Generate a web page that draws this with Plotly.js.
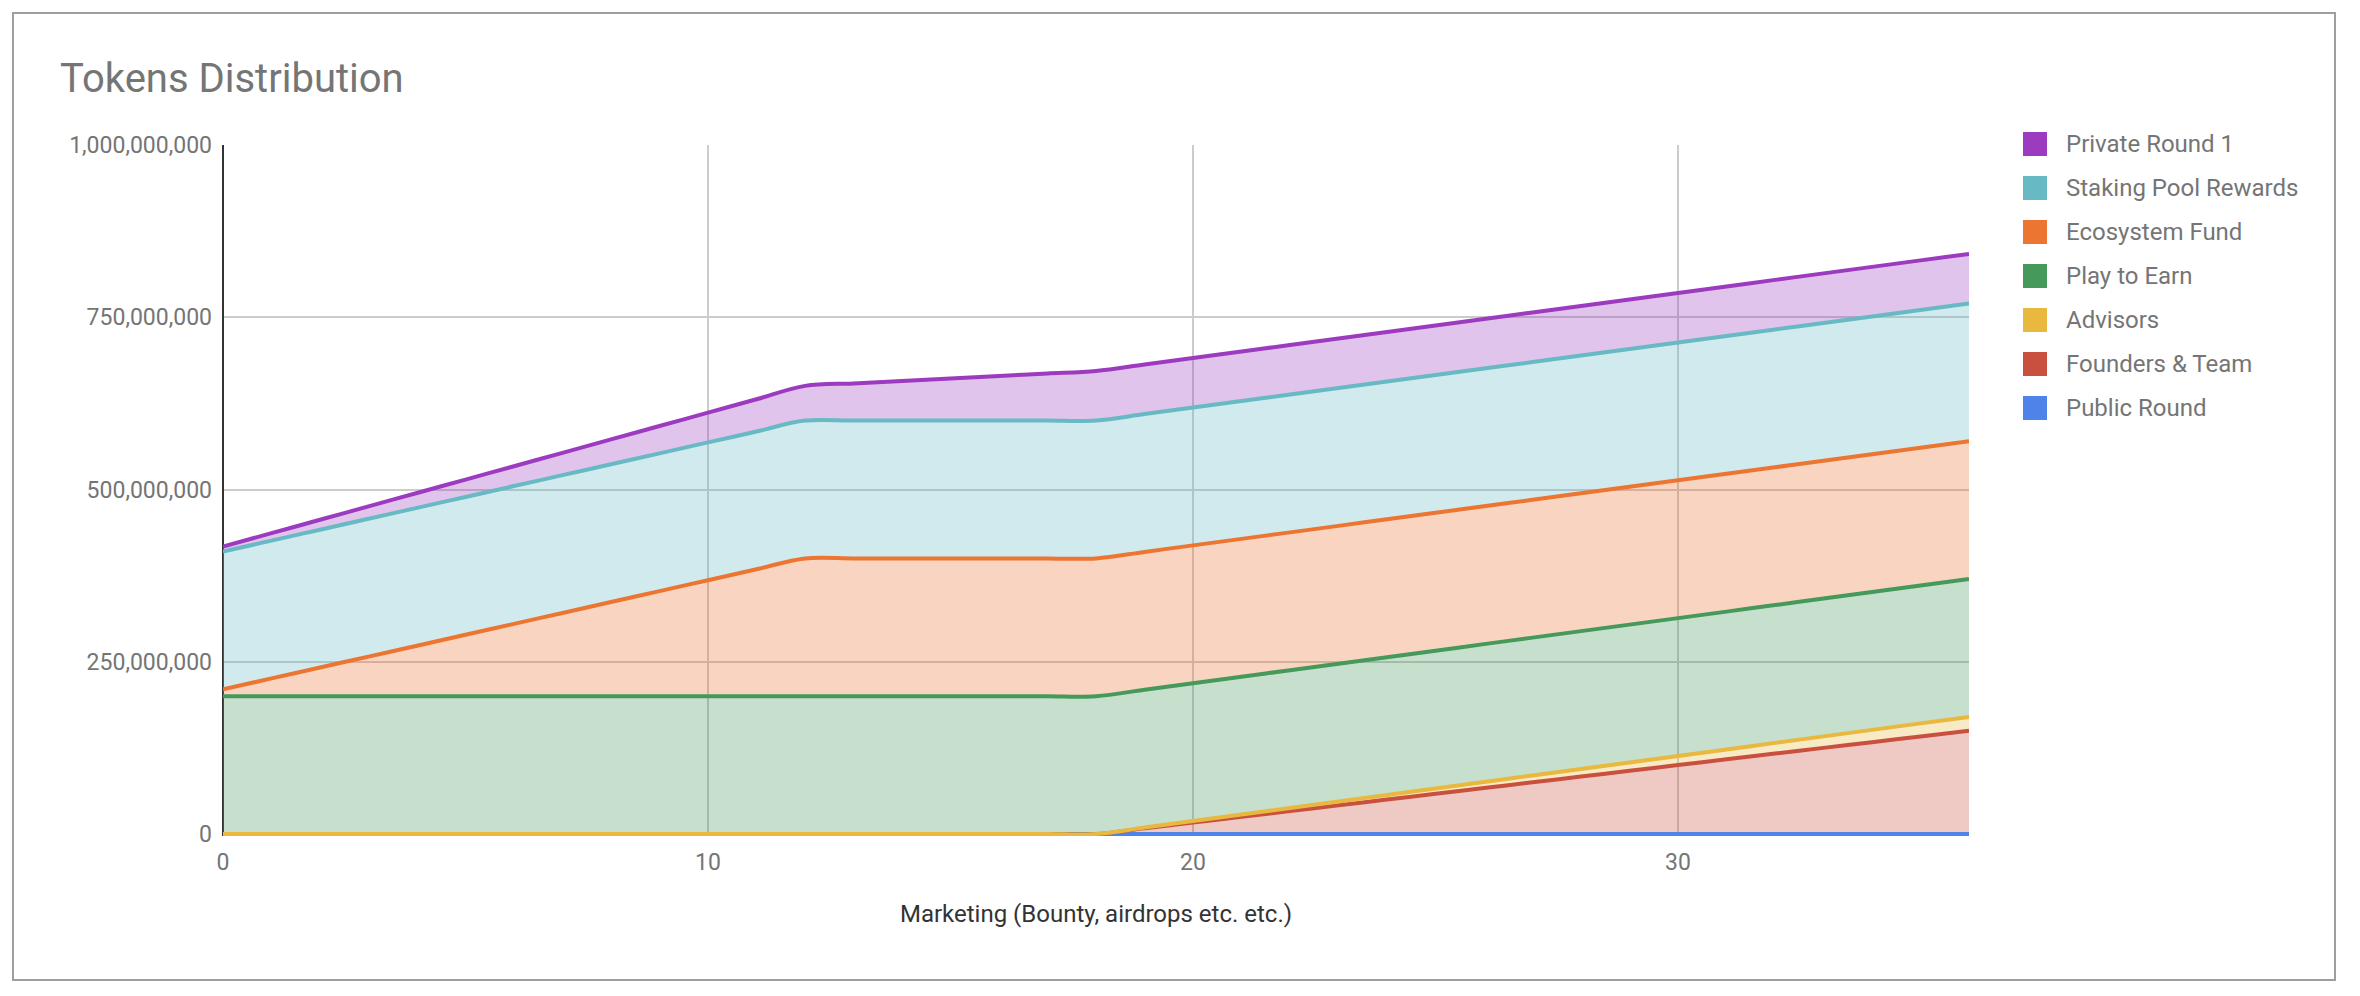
<!DOCTYPE html>
<html>
<head>
<meta charset="utf-8">
<script src="https://cdn.plot.ly/plotly-3.0.1.min.js"></script>
<style>
  html, body { margin: 0; padding: 0; background: #fff; }
  #wrap { position: relative; width: 2360px; height: 996px; }
  #chart { width: 2360px; height: 996px; }
  #frame {
    position: absolute; left: 12px; top: 12px; width: 2320px; height: 965px;
    border: 2px solid #9e9e9e; pointer-events: none;
  }
</style>
</head>
<body>
<div id="wrap">
  <div id="chart"></div>
  <div id="frame"></div>
</div>
<script>
// months since TGE
const months = [0,1,2,3,4,5,6,7,8,9,10,11,12,13,14,15,16,17,18,19,20,21,22,23,24,25,26,27,28,29,30,31,32,33,34,35,36];

// token amounts in millions, bottom of the stack first
const publicRound = [0,0,0,0,0,0,0,0,0,0,0,0,0,0,0,0,0,0,0,0,0,0,0,0,0,0,0,0,0,0,0,0,0,0,0,0,0];
const foundersTeam = [0,0,0,0,0,0,0,0,0,0,0,0,0,0,0,0,0,0,0,8.33,16.67,25,33.33,41.67,50,58.33,66.67,75,83.33,91.67,100,108.33,116.67,125,133.33,141.67,150];
const advisors = [0,0,0,0,0,0,0,0,0,0,0,0,0,0,0,0,0,0,0,1.11,2.22,3.33,4.44,5.56,6.67,7.78,8.89,10,11.11,12.22,13.33,14.44,15.56,16.67,17.78,18.89,20];
const playToEarn = [200,200,200,200,200,200,200,200,200,200,200,200,200,200,200,200,200,200,200,200,200,200,200,200,200,200,200,200,200,200,200,200,200,200,200,200,200];
const ecosystemFund = [10,25.83,41.67,57.5,73.33,89.17,105,120.83,136.67,152.5,168.33,184.17,200,200,200,200,200,200,200,200,200,200,200,200,200,200,200,200,200,200,200,200,200,200,200,200,200];
const stakingPool = [200,200,200,200,200,200,200,200,200,200,200,200,200,200,200,200,200,200,200,200,200,200,200,200,200,200,200,200,200,200,200,200,200,200,200,200,200];
const privateRound1 = [7.2,10.8,14.4,18,21.6,25.2,28.8,32.4,36,39.6,43.2,46.8,50.4,54,57.6,61.2,64.8,68.4,72,72,72,72,72,72,72,72,72,72,72,72,72,72,72,72,72,72,72];

const seriesNames = ['Public Round','Founders & Team','Advisors','Play to Earn','Ecosystem Fund','Staking Pool Rewards','Private Round 1'];
const seriesValues = [publicRound, foundersTeam, advisors, playToEarn, ecosystemFund, stakingPool, privateRound1];
const seriesColors = ['#4f83e9','#c9503f','#e8b83f','#45995a','#ec7531','#67bac3','#9c3ac0'];

const yTicks = [0, 250000000, 500000000, 750000000, 1000000000];
const xTicks = [0, 10, 20, 30];

// page geometry (px)
const W = 2360, H = 996;
const M = { l: 223, r: 391, t: 145, b: 160 };
const plotW = W - M.l - M.r, plotH = H - M.t - M.b;
const px = x => (x - M.l) / plotW;
const py = y => 1 - (y - M.t) / plotH;
// a little room under zero so the bottom line is not cut in half
const yMin = -1e9 * 2 / (plotH - 2);

function rgba(hex, a) {
  const n = parseInt(hex.slice(1), 16);
  return 'rgba(' + (n >> 16) + ',' + ((n >> 8) & 255) + ',' + (n & 255) + ',' + a + ')';
}

const traces = seriesNames.map((name, i) => ({
  type: 'scatter',
  mode: 'lines',
  name: name,
  x: months,
  y: seriesValues[i].map(v => v * 1e6),
  stackgroup: 'tokens',
  line: { color: seriesColors[i], width: 4, shape: 'spline', smoothing: 1 },
  fillcolor: rgba(seriesColors[i], 0.3),
  showlegend: false,
  hoverinfo: 'skip'
}));

// legend like the original: top of stack first
const shapes = [];
const annotations = [];
const legendOrder = seriesNames.map((n, i) => i).reverse();
legendOrder.forEach((idx, row) => {
  const cy = 144 + row * 44;
  shapes.push({
    type: 'rect', xref: 'paper', yref: 'paper',
    x0: px(2023), x1: px(2047), y0: py(cy + 12), y1: py(cy - 12),
    fillcolor: seriesColors[idx], line: { width: 0 }
  });
  annotations.push({
    xref: 'paper', yref: 'paper', x: px(2064), y: py(cy),
    xanchor: 'left', yanchor: 'middle', showarrow: false,
    text: seriesNames[idx],
    font: { family: 'Roboto', size: 24, color: '#757575' }
  });
});

const layout = {
  width: W, height: H,
  margin: M,
  paper_bgcolor: '#fff', plot_bgcolor: '#fff',
  font: { family: 'Roboto', size: 23, color: '#757575' },
  title: {
    text: 'Tokens Distribution',
    xref: 'container', yref: 'container',
    x: 60 / W, xanchor: 'left', y: 1 - 78 / H, yanchor: 'middle',
    font: { family: 'Roboto', size: 40, color: '#757575' }
  },
  xaxis: {
    range: [0, 36], tickvals: xTicks, ticks: '',
    showgrid: true, gridcolor: '#cccccc', gridwidth: 2,
    zeroline: true, zerolinecolor: '#333333', zerolinewidth: 2,
    showline: false, ticklabelstandoff: 10,
    tickfont: { family: 'Roboto', size: 23, color: '#757575' },
    title: {
      text: 'Marketing (Bounty, airdrops etc. etc.)', standoff: 30,
      font: { family: 'Roboto', size: 24, color: '#333333' }
    },
    automargin: false, fixedrange: true
  },
  yaxis: {
    range: [yMin, 1000000000], tickvals: yTicks, tickformat: ',d', ticks: '',
    showgrid: true, gridcolor: '#cccccc', gridwidth: 2,
    zeroline: true, zerolinecolor: '#333333', zerolinewidth: 2,
    showline: false, ticklabelstandoff: 10,
    tickfont: { family: 'Roboto', size: 23, color: '#757575' },
    automargin: false, fixedrange: true
  },
  shapes: shapes,
  annotations: annotations,
  showlegend: false
};

Plotly.newPlot('chart', traces, layout, { displayModeBar: false, staticPlot: true });
</script>
</body>
</html>
